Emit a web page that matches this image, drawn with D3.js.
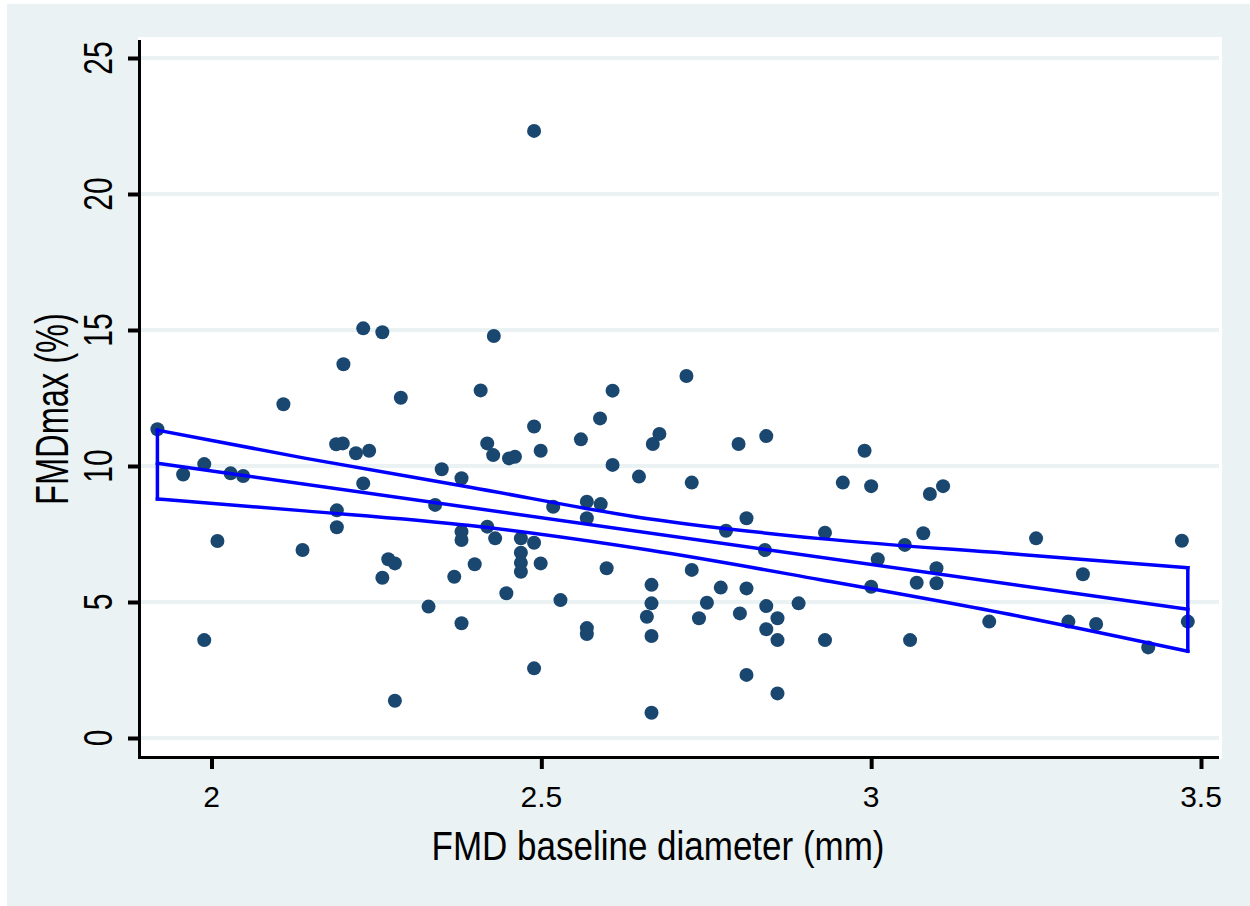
<!DOCTYPE html>
<html>
<head>
<meta charset="utf-8">
<script src="https://cdn.jsdelivr.net/npm/d3@7"></script>
<style>
  html, body { margin: 0; padding: 0; background: #ffffff; }
  svg { display: block; }
  text { font-family: "Liberation Sans", Arial, sans-serif; fill: #000000; }
</style>
</head>
<body>
<div id="chart"></div>
<script>
// FMD baseline diameter (mm) per subject
const baselineDiam = [
  1.918, 1.957, 1.989, 1.989, 2.009, 2.029, 2.048, 2.109, 2.138, 2.190,
  2.190, 2.189, 2.199, 2.200, 2.219, 2.239, 2.230, 2.259, 2.230, 2.259,
  2.268, 2.278, 2.287, 2.278, 2.329, 2.339, 2.349, 2.368, 2.379, 2.379,
  2.379, 2.379, 2.399, 2.408, 2.428, 2.608, 2.720, 2.589, 2.489, 2.560,
  2.679, 2.669, 2.799, 2.841, 2.418, 2.427, 2.451, 2.460, 2.499, 2.608,
  2.648, 2.728, 2.518, 2.569, 2.590, 2.569, 2.418, 2.430, 2.469, 2.489,
  2.469, 2.469, 2.469, 2.499, 2.599, 2.728, 2.780, 2.811, 2.839, 2.930,
  2.447, 2.529, 2.667, 2.667, 2.660, 2.569, 2.569, 2.667, 2.751, 2.739,
  2.772, 2.811, 2.801, 2.841, 2.858, 2.841, 2.858, 2.890, 2.930, 2.489,
  2.811, 2.858, 2.667, 2.990, 2.957, 3.000, 3.089, 3.109, 3.079, 3.051,
  3.250, 3.471, 3.010, 3.099, 3.069, 3.099, 3.000, 3.321, 3.059, 3.179,
  3.299, 3.341, 3.420, 3.480, 2.489
];
// FMDmax (%) per subject
const fmdMax = [
  11.35, 9.69, 10.07, 3.60, 7.24, 9.73, 9.63, 12.27, 6.91, 8.37,
  7.75, 10.80, 10.83, 13.74, 10.47, 10.56, 15.06, 14.92, 9.36, 5.89,
  6.57, 6.42, 12.51, 1.37, 4.83, 8.57, 9.88, 5.93, 9.55, 7.58,
  7.28, 4.22, 6.39, 12.78, 14.78, 12.77, 13.31, 11.75, 11.45, 10.98,
  11.18, 10.81, 10.81, 11.10, 10.83, 10.40, 10.28, 10.34, 10.56, 10.04,
  9.61, 9.39, 8.50, 8.69, 8.60, 8.08, 7.77, 7.34, 7.34, 7.18,
  6.81, 6.44, 6.11, 6.42, 6.24, 6.18, 7.62, 8.08, 6.91, 7.55,
  5.32, 5.07, 5.63, 4.95, 4.46, 4.04, 3.82, 3.75, 4.97, 4.40,
  5.53, 5.50, 4.58, 4.85, 4.40, 4.00, 3.60, 4.95, 3.60, 2.56,
  2.32, 1.64, 0.93, 10.56, 9.39, 9.26, 8.97, 9.26, 7.53, 7.10,
  7.34, 7.25, 6.57, 6.24, 5.71, 5.69, 5.56, 6.02, 3.60, 4.28,
  4.28, 4.19, 3.33, 4.28, 22.32
];

// linear fit and its 95% CI
const fitX = [1.918, 3.480];
const fitY = [10.10, 4.73];
const ciX = [1.918, 2.141, 2.392, 2.665, 2.923, 3.226, 3.480];
const ciUpper = [11.32, 10.29, 9.22, 8.05, 7.33, 6.75, 6.26];
const ciLower = [8.79, 8.35, 7.81, 6.90, 5.82, 4.47, 3.19];

const xTicks = [2, 2.5, 3, 3.5];
const yTicks = [0, 5, 10, 15, 20, 25];
const xTitle = "FMD baseline diameter (mm)";
const yTitle = "FMDmax (%)";

const W = 1250, H = 906;
const bg = "#eaf2f3";
const navy = "#1a476f";
const blue = "#0000ff";
const plot = {left: 138, top: 37, right: 1222, bottom: 759};

const svg = d3.select("#chart").append("svg")
    .attr("width", W)
    .attr("height", H);

// graph region
svg.append("rect").attr("x", 0).attr("y", 0).attr("width", W).attr("height", H).attr("fill", "#ffffff");
svg.append("rect").attr("x", 7).attr("y", 4).attr("width", W - 7).attr("height", H - 4).attr("fill", bg);
svg.append("rect")
    .attr("x", plot.left).attr("y", plot.top)
    .attr("width", plot.right - plot.left).attr("height", plot.bottom - plot.top)
    .attr("fill", "#ffffff");

const x = d3.scaleLinear().domain([2, 3.5]).range([211.5, 1201]);
const y = d3.scaleLinear().domain([0, 25]).range([738, 58]);

// gridlines
svg.append("g").selectAll("line")
    .data(yTicks)
  .join("line")
    .attr("x1", plot.left + 3).attr("x2", 1219)
    .attr("y1", d => y(d)).attr("y2", d => y(d))
    .attr("stroke", bg).attr("stroke-width", 4);

// axes
const yAxis = d3.axisLeft(y).tickValues(yTicks).tickSize(10).tickSizeOuter(0).tickFormat("");
const yAxisG = svg.append("g").attr("transform", `translate(${plot.left},0)`).call(yAxis);
yAxisG.select(".domain").remove();
yAxisG.selectAll(".tick line").attr("stroke", "#000").attr("stroke-width", 4);

const xAxis = d3.axisBottom(x).tickValues(xTicks).tickSize(11).tickSizeOuter(0).tickFormat("");
const xAxisG = svg.append("g").attr("transform", `translate(0,${plot.bottom - 1})`).call(xAxis);
xAxisG.select(".domain").remove();
xAxisG.selectAll(".tick line").attr("stroke", "#000").attr("stroke-width", 4);

svg.append("line")
    .attr("x1", plot.left + 1.5).attr("x2", plot.left + 1.5)
    .attr("y1", 40).attr("y2", plot.bottom)
    .attr("stroke", "#000").attr("stroke-width", 3);
svg.append("line")
    .attr("x1", plot.left).attr("x2", 1219)
    .attr("y1", plot.bottom - 1.5).attr("y2", plot.bottom - 1.5)
    .attr("stroke", "#000").attr("stroke-width", 3);

// tick labels
svg.append("g").selectAll("text")
    .data(yTicks)
  .join("text")
    .attr("transform", d => `translate(97,${y(d)}) rotate(-90) scale(1,1.36)`)
    .attr("dy", "0.36em")
    .attr("text-anchor", "middle")
    .style("font-size", "30px")
    .text(d => d);

svg.append("g").selectAll("text")
    .data(xTicks)
  .join("text")
    .attr("x", d => x(d))
    .attr("y", 807)
    .attr("text-anchor", "middle")
    .style("font-size", "30px")
    .text(d => d);

// axis titles
svg.append("text")
    .attr("transform", "translate(658,860) scale(1,1.17)")
    .attr("text-anchor", "middle")
    .style("font-size", "35px")
    .text(xTitle);

svg.append("text")
    .attr("transform", "translate(52,409) rotate(-90) scale(1,1.4)")
    .attr("dy", "0.358em")
    .attr("text-anchor", "middle")
    .style("font-size", "32.6px")
    .text(yTitle);

// scatter
svg.append("g").selectAll("circle")
    .data(baselineDiam.map((d, i) => [d, fmdMax[i]]))
  .join("circle")
    .attr("cx", d => x(d[0]))
    .attr("cy", d => y(d[1]))
    .attr("r", 7)
    .attr("fill", navy);

// CI band: upper and lower curves, closed at both ends; fitted line inside
const curve = d3.line().x(d => x(d[0])).y(d => y(d[1])).curve(d3.curveMonotoneX);
const straight = d3.line().x(d => x(d[0])).y(d => y(d[1]));
const last = ciX.length - 1;
const ciG = svg.append("g")
    .attr("fill", "none")
    .attr("stroke", blue)
    .attr("stroke-width", 3.5)
    .attr("stroke-linecap", "square");

ciG.append("path").attr("d", curve(ciX.map((d, i) => [d, ciUpper[i]])));
ciG.append("path").attr("d", curve(ciX.map((d, i) => [d, ciLower[i]])));
ciG.append("path").attr("d", straight([[ciX[0], ciUpper[0]], [ciX[0], ciLower[0]]]));
ciG.append("path").attr("d", straight([[ciX[last], ciUpper[last]], [ciX[last], ciLower[last]]]));
ciG.append("path").attr("d", straight(fitX.map((d, i) => [d, fitY[i]])));
</script>
</body>
</html>
